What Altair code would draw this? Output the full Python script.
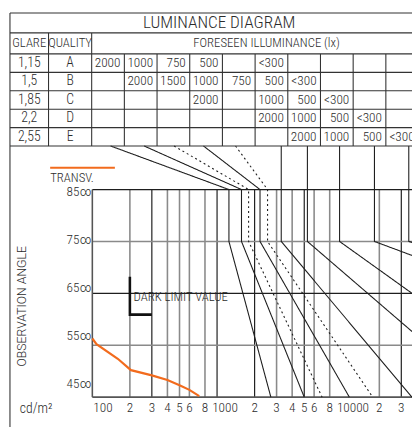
import altair as alt
import pandas as pd

FONT = "Roboto Condensed, Liberation Sans Narrow, DejaVu Sans Condensed, sans-serif"
FW = 300
DARK = "#1e1e1e"
GREY = "#8a8a8a"
TXT = "#2b2b2b"
ORANGE = "#f26b1d"
W, H = 412, 419

# ---------------- data ----------------
title_text = "LUMINANCE DIAGRAM"
header_texts = ["GLARE", "QUALITY", "FORESEEN ILLUMINANCE (lx)"]
glare = ["1,15", "1,5", "1,85", "2,2", "2,55"]
quality = ["A", "B", "C", "D", "E"]
illum_A = ["2000", "1000", "750", "500", "", "<300", "", "", "", ""]
illum_B = ["", "2000", "1500", "1000", "750", "500", "<300", "", "", ""]
illum_C = ["", "", "", "2000", "", "1000", "500", "<300", "", ""]
illum_D = ["", "", "", "", "", "2000", "1000", "500", "<300", ""]
illum_E = ["", "", "", "", "", "", "2000", "1000", "500", "<300"]
illum_rows = [illum_A, illum_B, illum_C, illum_D, illum_E]

y_tick_values = [85, 75, 65, 55, 45]
y_tick_labels = ["85∞", "75∞", "65∞", "55∞", "45∞"]
x_tick_values = [100, 200, 300, 400, 500, 600, 800, 1000, 2000, 3000, 4000,
                 5000, 6000, 8000, 10000, 20000, 30000, 40000]
x_tick_labels = ["100", "2", "3", "4", "5", "6", "8", "1000", "2", "3", "4",
                 "5", "6", "8", "10000", "2", "3", "4"]
grid_light = [200, 400, 500, 600, 800, 3000, 4000, 6000, 8000, 20000]
grid_dark = [300, 1000, 2000, 5000, 30000]
angle_light = [75, 55]
angle_dark = [85, 65]

# limit curves: luminance (cd/m2) and observation angle at each vertex
curve_names = ["A", "B", "C", "D", "E", "F", "G", "H", "I", "J"]
curve_styles = ["solid", "solid", "dotted", "solid", "dotted",
                "solid", "solid", "solid", "solid", "solid"]
curve_lum = [
    [140, 1245, 1245, 2700],
    [260, 1570, 1570, 5000],
    [452, 1790, 1790, 6950],
    [778, 2210, 2210, 11500],
    [1406, 2540, 2540, 17700],
    [3270, 3270, 36500],
    [5300, 5300, 52500],
    [9600, 9600, 52500],
    [18270, 18270, 52500],
    [34440, 34440, 52500],
]
curve_angle = [
    [93.4, 85, 75, 45],
    [93.4, 85, 75, 45],
    [93.4, 85, 75, 45],
    [93.4, 85, 75, 45],
    [93.4, 85, 75, 45],
    [93.4, 75, 45],
    [93.4, 75, 54.4],
    [93.4, 75, 62.3],
    [93.4, 75, 70.9],
    [93.4, 75, 73.8],
]

transv_name = "TRANSV."
transv_lum = [100, 108, 160, 204, 300, 400, 500, 600, 720]
transv_angle = [56.3, 55.2, 52.4, 50.2, 49.2, 48.3, 47.3, 46.4, 45.2]

dark_limit_text = "DARK LIMIT VALUE"
dark_limit_lum = [200, 200, 300]
dark_limit_angle = [68.2, 60.9, 60.9]

axis_title = "OBSERVATION ANGLE"
unit_text = "cd/m²"

# ---------------- scales ----------------
XS = alt.Scale(type="log", domain=[21.08, 36550], nice=False)
YS = alt.Scale(domain=[40.03, 119.2], nice=False, zero=False)
YL = alt.Scale(domain=[36.98, 122.49], nice=False, zero=False)
TX = alt.Scale(domain=[-0.06, 12.3], nice=False, zero=False)
TY = alt.Scale(domain=[-15.02, 7.27], nice=False, zero=False)


def X(f):
    return alt.X(f, type="quantitative", scale=XS, axis=None)


def Y(f):
    return alt.Y(f, type="quantitative", scale=YS, axis=None)


def txt(**kw):
    base = dict(font=FONT, fontWeight=FW, color=TXT, baseline="middle")
    base.update(kw)
    return base


# ---------------- diagram ----------------
vg = pd.DataFrame({"L": grid_light + grid_dark,
                   "tone": ["l"] * len(grid_light) + ["d"] * len(grid_dark)})
vg["a0"], vg["a1"] = 45, 85
vgrid_l = alt.Chart(vg[vg.tone == "l"]).mark_rule(color=GREY, strokeWidth=1.6).encode(
    x=X("L"), y=Y("a0"), y2="a1")
vgrid_d = alt.Chart(vg[vg.tone == "d"]).mark_rule(color=DARK, strokeWidth=1.2).encode(
    x=X("L"), y=Y("a0"), y2="a1")

hg = pd.DataFrame({"a": angle_light + angle_dark,
                   "tone": ["l"] * len(angle_light) + ["d"] * len(angle_dark)})
hg["L0"], hg["L1"] = x_tick_values[0], 60000
hgrid_l = alt.Chart(hg[hg.tone == "l"]).mark_rule(color=GREY, strokeWidth=1.6).encode(
    x=X("L0"), x2="L1", y=Y("a"))
hgrid_d = alt.Chart(hg[hg.tone == "d"]).mark_rule(color=DARK, strokeWidth=1.2).encode(
    x=X("L0"), x2="L1", y=Y("a"))

frame_df = pd.DataFrame({"L0": [100], "L1": [60000], "a0": [45], "a1": [85]})
bottom = alt.Chart(frame_df).mark_rule(color="#555555", strokeWidth=2).encode(
    x=X("L0"), x2="L1", y=Y("a0"))
left = alt.Chart(frame_df).mark_rule(color="#555555", strokeWidth=1.6).encode(
    x=X("L0"), y=Y("a0"), y2="a1")

rows = []
for name, style, ls, angs in zip(curve_names, curve_styles, curve_lum, curve_angle):
    for k, (l, a) in enumerate(zip(ls, angs)):
        rows.append({"curve": name, "style": style, "k": k, "L": l, "a": a})
cdf = pd.DataFrame(rows)
curves = alt.Chart(cdf).mark_line(color=DARK, strokeWidth=1.1).encode(
    x=X("L"), y=Y("a"), detail="curve:N", order="k:Q",
    strokeDash=alt.StrokeDash("style:N", scale=alt.Scale(
        domain=["solid", "dotted"], range=[[1, 0], [2, 3]]), legend=None))

tdf = pd.DataFrame({"L": transv_lum, "a": transv_angle, "k": range(len(transv_lum))})
transv = alt.Chart(tdf).mark_line(color=ORANGE, strokeWidth=2.2).encode(
    x=X("L"), y=Y("a"), order="k:Q")

# legend for the orange line
leg_df = pd.DataFrame({"L0": [45.9], "L1": [151.6], "a": [89.2], "t": [transv_name],
                       "at": [87.3]})
leg_line = alt.Chart(leg_df).mark_rule(color=ORANGE, strokeWidth=2.2).encode(
    x=X("L0"), x2="L1", y=Y("a"))
leg_text = alt.Chart(leg_df).mark_text(**txt(align="left", fontSize=13)).encode(
    x=X("L0"), y=Y("at"), text="t:N")

ddf = pd.DataFrame({"L": dark_limit_lum, "a": dark_limit_angle, "k": [0, 1, 2]})
dark_l = alt.Chart(ddf).mark_line(color="#111111", strokeWidth=2.6).encode(
    x=X("L"), y=Y("a"), order="k:Q")
dtext = alt.Chart(pd.DataFrame({"L": [214], "a": [64.35], "t": [dark_limit_text]})).mark_text(
    **txt(align="left", fontSize=13)).encode(x=X("L"), y=Y("a"), text="t:N")

xl = pd.DataFrame({"L": x_tick_values, "t": x_tick_labels, "a": 45})
decade = xl.t.str.len() >= 4
xl_mid = alt.Chart(xl[~decade & (xl.index > 0)]).mark_text(
    **txt(fontSize=13.5, dy=11)).encode(x=X("L"), y=Y("a"), text="t:N")
xl_dec = alt.Chart(xl[decade]).mark_text(
    **txt(align="left", fontSize=13.5, dy=11, dx=-5)).encode(
    x=X("L"), y=Y("a"), text="t:N")
xl_first = alt.Chart(xl.iloc[:1]).mark_text(
    **txt(align="left", fontSize=13.5, dy=11, dx=1)).encode(
    x=X("L"), y=Y("a"), text="t:N")

ax_title = alt.Chart(pd.DataFrame({"L": [27.1], "a": [62.5], "t": [axis_title]})).mark_text(
    angle=270, align="center", baseline="middle", font="Roboto", fontWeight=300,
    fontSize=12.5, color=TXT).encode(x=X("L"), y=Y("a"), text="t:N")
unit = alt.Chart(pd.DataFrame({"L": [26.2], "a": [42.7], "t": [unit_text]})).mark_text(
    **txt(align="left", fontSize=14)).encode(x=X("L"), y=Y("a"), text="t:N")

diagram = alt.layer(vgrid_l, vgrid_d, hgrid_l, hgrid_d, bottom, left, curves, transv,
                    leg_line, leg_text, dark_l, dtext, xl_mid, xl_dec, xl_first,
                    ax_title, unit)

# y tick labels (their own vertical spacing, as printed)
yl = pd.DataFrame({"L": 100, "a": y_tick_values, "t": y_tick_labels})
ylabels = alt.Chart(yl).mark_text(**txt(align="right", fontSize=13.5, dx=-1)).encode(
    x=X("L"), y=alt.Y("a:Q", scale=YL, axis=None), text="t:N")

# ---------------- table ----------------
col_edges = [0, 1.18, 2.5] + [2.5 + i for i in range(1, 11)]
n_rows = len(glare)
header_top = n_rows + 1.14
frame_top = header_top + 1.08


def TXe(f):
    return alt.X(f, type="quantitative", scale=TX, axis=None)


def TYe(f):
    return alt.Y(f, type="quantitative", scale=TY, axis=None)


hl = pd.DataFrame({"y": list(range(0, n_rows + 1)) + [header_top, frame_top]})
hl["x0"], hl["x1"] = 0, 14
t_h = alt.Chart(hl).mark_rule(color="#333333", strokeWidth=1.1).encode(
    x=TXe("x0"), x2="x1", y=TYe("y"))

vl = pd.DataFrame({
    "x": [0, col_edges[1], col_edges[2]] + col_edges[3:],
    "y0": [-16, 0, 0] + [0] * len(col_edges[3:]),
    "y1": [frame_top, header_top, header_top] + [n_rows] * len(col_edges[3:]),
})
t_v = alt.Chart(vl).mark_rule(color="#333333", strokeWidth=1.1).encode(
    x=TXe("x"), y=TYe("y0"), y2="y1")

title_df = pd.DataFrame({"x": [(col_edges[0] + 12.8) / 2],
                         "y": [(header_top + frame_top) / 2], "t": [title_text]})
t_title = alt.Chart(title_df).mark_text(**txt(fontSize=17.5)).encode(
    x=TXe("x"), y=TYe("y"), text="t:N")

head_df = pd.DataFrame({
    "x": [(col_edges[0] + col_edges[1]) / 2, (col_edges[1] + col_edges[2]) / 2,
          (col_edges[2] + 13.2) / 2],
    "y": [(n_rows + header_top) / 2] * 3, "t": header_texts})
t_head = alt.Chart(head_df).mark_text(**txt(fontSize=13)).encode(
    x=TXe("x"), y=TYe("y"), text="t:N")

lab_rows = []
for k in range(n_rows):
    yc = n_rows - k - 0.5
    lab_rows.append({"x": (col_edges[0] + col_edges[1]) / 2, "y": yc, "t": glare[k]})
    lab_rows.append({"x": (col_edges[1] + col_edges[2]) / 2, "y": yc, "t": quality[k]})
t_lab = alt.Chart(pd.DataFrame(lab_rows)).mark_text(**txt(fontSize=14)).encode(
    x=TXe("x"), y=TYe("y"), text="t:N")

cell_rows = []
for k, row in enumerate(illum_rows):
    for i, v in enumerate(row):
        if v:
            cell_rows.append({"x": col_edges[i + 3], "y": n_rows - k - 0.5, "t": v})
t_cells = alt.Chart(pd.DataFrame(cell_rows)).mark_text(
    **txt(fontSize=13.5, align="right", dx=-4)).encode(
    x=TXe("x"), y=TYe("y"), text="t:N")

table = alt.layer(t_h, t_v, t_title, t_head, t_lab, t_cells)

chart = alt.layer(diagram, ylabels, table).resolve_scale(
    x="independent", y="independent"
).properties(
    width=W, height=H, autosize=alt.AutoSizeParams(type="none"), padding=0
).configure_view(stroke=None)

chart.save("out.html", embed_options={"renderer": "svg", "actions": False})
